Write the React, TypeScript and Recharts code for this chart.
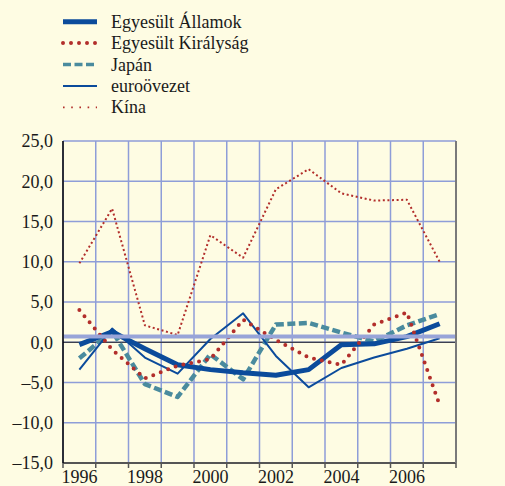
import React from 'react';
import { LineChart, Line, XAxis, YAxis, CartesianGrid, ReferenceLine } from 'recharts';

const years = [1996, 1997, 1998, 1999, 2000, 2001, 2002, 2003, 2004, 2005, 2006, 2007];
const usa = [-0.3, 1.3, -0.8, -2.8, -3.4, -3.8, -4.1, -3.4, -0.3, -0.2, 0.7, 2.3];
const uk = [4.0, -0.9, -4.5, -2.9, -2.1, 2.8, 0.3, -1.9, -2.8, 2.2, 3.7, -7.8];
const japan = [-2.0, 1.4, -5.2, -6.8, -1.5, -4.6, 2.2, 2.4, 1.2, 0.1, 2.1, 3.5];
const euro = [-3.4, 1.7, -1.9, -3.9, 0.4, 3.6, -1.7, -5.6, -3.2, -1.9, -0.8, 0.5];
const china = [9.8, 16.6, 2.1, 0.9, 13.3, 10.5, 19.0, 21.5, 18.5, 17.6, 17.7, 10.0];

const labelYears = [1996, 1998, 2000, 2002, 2004, 2006];
const yTicks = [-15, -10, -5, 0, 5, 10, 15, 20, 25];
const refLevel = 0.7;

const boundaries = [...years.map((y) => y - 0.5), years[years.length - 1] + 0.5];
const xTicks = [...boundaries, ...labelYears].sort((a, b) => a - b);

const data = years.map((year, i) => ({
  year,
  usa: usa[i],
  uk: uk[i],
  japan: japan[i],
  euro: euro[i],
  china: china[i],
}));

const FONT = '"Liberation Serif", "Times New Roman", serif';
const BG = '#FEFCE3';
const GRID = '#8E9DD8';
const BLUE = '#0B4B9B';
const RED = '#B22E2B';
const TEAL = '#4A8B9E';

const series = [
  { key: 'usa', name: 'Egyesült Államok', color: BLUE, width: 5, dash: undefined, cap: 'butt', legendDash: undefined },
  { key: 'uk', name: 'Egyesült Királyság', color: RED, width: 4, dash: '0 8', cap: 'round', legendDash: '0 8' },
  { key: 'japan', name: 'Japán', color: TEAL, width: 4.5, dash: '8 3.5', cap: 'butt', legendDash: '8 3.5' },
  { key: 'euro', name: 'euroövezet', color: BLUE, width: 2, dash: undefined, cap: 'butt', legendDash: undefined },
  { key: 'china', name: 'Kína', color: RED, width: 2, dash: '2 2.6', cap: 'butt', legendDash: '1.6 6.6' },
];

const drawOrder = ['china', 'japan', 'euro', 'usa', 'uk'];

const fmt = (v: number) => {
  const s = Math.abs(v).toFixed(1).replace('.', ',');
  return v < 0 ? '\u2013' + s : s;
};

const XTick = (props: any) => {
  const { x, y, payload } = props;
  const v = payload.value as number;
  if (v % 1 !== 0) {
    return <line x1={x} x2={x} y1={y} y2={y + 5} stroke="#555" strokeWidth={1.5} />;
  }
  return (
    <text x={x} y={y + 20} textAnchor="middle" fontFamily={FONT} fontSize={18} fill="#1a1a1a">
      {v}
    </text>
  );
};

const LegendBox = () => (
  <svg width={300} height={125} style={{ position: 'absolute', left: 0, top: 0 }}>
    {series.map((s, i) => {
      const y = 21.7 + i * 21.4;
      return (
        <g key={s.key}>
          <line
            x1={63}
            x2={97}
            y1={y}
            y2={y}
            stroke={s.color}
            strokeWidth={s.key === 'china' ? 1.8 : s.key === 'japan' ? 3.5 : s.width}
            strokeDasharray={s.legendDash}
            strokeLinecap={s.cap as any}
          />
          <text x={111} y={y + 6} fontFamily={FONT} fontSize={18} fill="#1a1a1a">
            {s.name}
          </text>
        </g>
      );
    })}
  </svg>
);

export default function App() {
  return (
    <div style={{ position: 'absolute', left: 0, top: 0, width: 505, height: 486, background: BG, overflow: 'hidden' }}>
      <LineChart width={505} height={486} data={data} margin={{ top: 141, right: 0, bottom: 0, left: 0 }}>
        <CartesianGrid yAxisId="left" vertical={false} stroke={GRID} strokeWidth={1.5} />
        {boundaries.map((b) => (
          <ReferenceLine key={b} yAxisId="left" x={b} stroke={GRID} strokeWidth={1.5} />
        ))}
        <XAxis
          dataKey="year"
          type="number"
          domain={[boundaries[0], boundaries[boundaries.length - 1]]}
          ticks={xTicks}
          interval={0}
          height={23}
          tickLine={false}
          tickSize={0}
          tickMargin={0}
          axisLine={{ stroke: '#555', strokeWidth: 2 }}
          tick={(p: any) => <XTick {...p} />}
        />
        <YAxis
          yAxisId="left"
          orientation="left"
          width={63}
          domain={[-15, 25]}
          ticks={yTicks}
          interval={0}
          tickLine={false}
          tickSize={0}
          tickMargin={10}
          axisLine={{ stroke: '#000', strokeWidth: 1.5 }}
          tick={{ fontFamily: FONT, fontSize: 18, fill: '#1a1a1a' }}
          tickFormatter={fmt}
        />
        <YAxis
          yAxisId="right"
          orientation="right"
          width={49}
          domain={[-15, 25]}
          ticks={yTicks}
          interval={0}
          tickLine={false}
          tickSize={0}
          tickMargin={14}
          axisLine={{ stroke: '#7a7a7a', strokeWidth: 2 }}
          tick={{ fontFamily: FONT, fontSize: 18, fill: '#1a1a1a', textAnchor: 'start' }}
          tickFormatter={fmt}
        />
        <ReferenceLine yAxisId="left" y={0} stroke="#222" strokeWidth={1.2} />
        {drawOrder.map((k) => {
          const s = series.find((d) => d.key === k)!;
          return (
            <Line
              key={s.key}
              yAxisId="left"
              dataKey={s.key}
              name={s.name}
              type="linear"
              stroke={s.color}
              strokeWidth={s.width}
              strokeDasharray={s.dash}
              strokeLinecap={s.cap as any}
              strokeLinejoin="round"
              dot={false}
              activeDot={false}
              isAnimationActive={false}
            />
          );
        })}
        <ReferenceLine yAxisId="left" y={refLevel} stroke="#98A4D8" strokeWidth={4} />
      </LineChart>
      <LegendBox />
    </div>
  );
}
